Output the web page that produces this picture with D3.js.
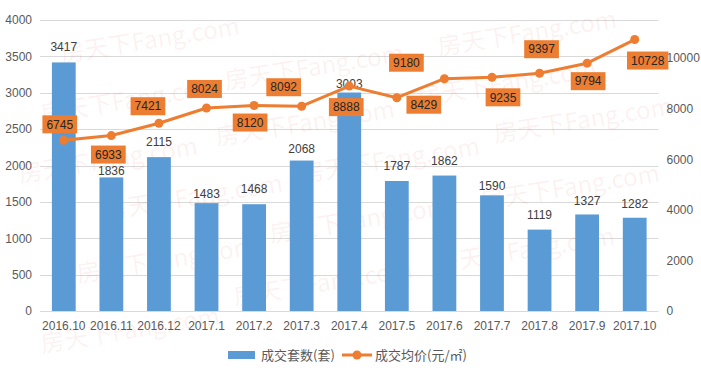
<!DOCTYPE html>
<html>
<head>
<meta charset="utf-8">
<script src="https://cdnjs.cloudflare.com/ajax/libs/d3/7.8.5/d3.min.js"></script>
<style>
  body { margin: 0; background: #fff; }
  svg { display: block; }
  .tick text { fill: #595959; font-family: 'Liberation Sans', sans-serif; font-size: 12px; }
</style>
</head>
<body>
<div id="chart"></div>
<script>
/* global d3 */

var months = ['2016.10', '2016.11', '2016.12', '2017.1', '2017.2', '2017.3', '2017.4',
  '2017.5', '2017.6', '2017.7', '2017.8', '2017.9', '2017.10']
var deals = [3417, 1836, 2115, 1483, 1468, 2068, 3003, 1787, 1862, 1590, 1119, 1327, 1282]
var prices = [6745, 6933, 7421, 8024, 8120, 8092, 8888, 8429, 9180, 9235, 9397, 9794, 10728]
var leftTicks = [0, 500, 1000, 1500, 2000, 2500, 3000, 3500, 4000]
var rightTicks = [0, 2000, 4000, 6000, 8000, 10000]
var seriesNames = ['成交套数(套)', '成交均价(元/㎡)']

// label boxes were dragged around by hand in the original, offset from the point
var priceLabelShift = [[-4, -16], [-3, 19], [-11, -17], [-2, -19], [-4, 17], [-18, -19], [-3, 21],
  [27, 7], [-38, -16], [11, 20], [2, -24], [1, 18], [13, 21]]
var dealLabelGap = [16, 7, 15, 9, 15, 12, 9, 15, 15, 10, 15, 14, 14]

// watermark spots
var marks = [[150, 40], [527, 33], [314, 67], [130, 100], [583, 120], [305, 123], [507, 83],
  [108, 160], [390, 160], [570, 187], [193, 197], [359, 220], [166, 260], [525, 250],
  [323, 283], [130, 330]]

var width = 701
var height = 371
var margin = { top: 20, right: 42.5, bottom: 60, left: 40 }
var blue = '#5B9BD5'
var orange = '#ED7D31'
var labelFont = "'Liberation Sans', sans-serif"

var svg = d3.select('#chart').append('svg')
  .attr('width', width)
  .attr('height', height)

svg.append('rect').attr('width', width).attr('height', height).attr('fill', '#fff')

var x = d3.scaleBand()
  .domain(months)
  .range([margin.left, width - margin.right])
  .paddingInner(0.5)
  .paddingOuter(0.25)

var yL = d3.scaleLinear().domain([0, 4000]).range([height - margin.bottom, margin.top])
var yR = d3.scaleLinear().domain([0, 11500]).range([height - margin.bottom, margin.top])

// grid
svg.append('g')
  .selectAll('line')
  .data(leftTicks)
  .enter().append('line')
  .attr('x1', margin.left)
  .attr('x2', width - margin.right)
  .attr('y1', function (d) { return Math.round(yL(d)) + 0.5 })
  .attr('y2', function (d) { return Math.round(yL(d)) + 0.5 })
  .style('stroke', '#d9d9d9')
  .style('stroke-width', 1)

// left axis
svg.append('g')
  .attr('transform', 'translate(' + (margin.left - 8) + ',0)')
  .call(d3.axisLeft(yL).tickValues(leftTicks).tickFormat(d3.format('d')).tickSize(0).tickPadding(0))
  .call(function (g) { g.select('.domain').remove() })

// right axis
svg.append('g')
  .attr('transform', 'translate(' + (width - margin.right + 8) + ',0)')
  .call(d3.axisRight(yR).tickValues(rightTicks).tickFormat(d3.format('d')).tickSize(0).tickPadding(0))
  .call(function (g) { g.select('.domain').remove() })

// bottom axis
svg.append('g')
  .attr('transform', 'translate(0,' + (height - margin.bottom + 10) + ')')
  .call(d3.axisBottom(x).tickSize(0).tickPadding(0))
  .call(function (g) { g.select('.domain').remove() })
  .selectAll('text').attr('dy', '0.71em')

// watermark
svg.append('g')
  .selectAll('text')
  .data(marks)
  .enter().append('text')
  .attr('transform', function (d) { return 'translate(' + d[0] + ',' + d[1] + ') rotate(-9)' })
  .attr('text-anchor', 'middle')
  .attr('dy', '0.35em')
  .style('font-family', "'Noto Sans CJK SC', sans-serif")
  .style('font-size', '24px')
  .style('fill', '#e06060')
  .style('fill-opacity', 0.09)
  .text('房天下Fang.com')

// bars
svg.append('g')
  .selectAll('rect')
  .data(deals)
  .enter().append('rect')
  .attr('x', function (d, i) { return x(months[i]) })
  .attr('y', function (d) { return yL(d) })
  .attr('width', x.bandwidth())
  .attr('height', function (d) { return yL(0) - yL(d) })
  .style('fill', blue)

svg.append('g')
  .selectAll('text')
  .data(deals)
  .enter().append('text')
  .attr('x', function (d, i) { return x(months[i]) + x.bandwidth() / 2 })
  .attr('y', function (d, i) { return yL(d) - dealLabelGap[i] })
  .attr('dy', '0.35em')
  .attr('text-anchor', 'middle')
  .style('font-family', labelFont)
  .style('font-size', '12px')
  .style('fill', '#404040')
  .text(function (d) { return d })

// price line
var line = d3.line()
  .x(function (d, i) { return x(months[i]) + x.bandwidth() / 2 })
  .y(function (d) { return yR(d) })

svg.append('path')
  .datum(prices)
  .attr('d', line)
  .style('fill', 'none')
  .style('stroke', orange)
  .style('stroke-width', 3)
  .style('stroke-linejoin', 'round')

svg.append('g')
  .selectAll('circle')
  .data(prices)
  .enter().append('circle')
  .attr('cx', function (d, i) { return x(months[i]) + x.bandwidth() / 2 })
  .attr('cy', function (d) { return yR(d) })
  .attr('r', 4.5)
  .style('fill', orange)

// price labels in orange boxes
var priceLabels = svg.append('g')
  .selectAll('g')
  .data(prices)
  .enter().append('g')
  .attr('transform', function (d, i) {
    var cx = x(months[i]) + x.bandwidth() / 2 + priceLabelShift[i][0]
    var cy = yR(d) + priceLabelShift[i][1]
    return 'translate(' + cx + ',' + cy + ')'
  })

priceLabels.append('rect')
  .style('fill', orange)

priceLabels.append('text')
  .attr('text-anchor', 'middle')
  .attr('dy', '0.35em')
  .style('font-family', labelFont)
  .style('font-size', '12px')
  .style('fill', '#262626')
  .text(function (d) { return d })

priceLabels.each(function () {
  var g = d3.select(this)
  var w = g.select('text').node().getComputedTextLength() + 8
  g.select('rect')
    .attr('x', -w / 2)
    .attr('y', -9)
    .attr('width', w)
    .attr('height', 18)
})

// legend
var legend = svg.append('g').attr('transform', 'translate(228,355)')

legend.append('rect')
  .attr('x', 0).attr('y', -4)
  .attr('width', 27).attr('height', 8)
  .style('fill', blue)

legend.append('text')
  .attr('x', 33).attr('dy', '0.35em')
  .style('font-family', "'Noto Sans CJK SC', sans-serif")
  .style('font-size', '13px')
  .style('fill', '#595959')
  .text(seriesNames[0])

legend.append('line')
  .attr('x1', 114).attr('x2', 144)
  .style('stroke', orange)
  .style('stroke-width', 3)

legend.append('circle')
  .attr('cx', 129).attr('r', 4.5)
  .style('fill', orange)

legend.append('text')
  .attr('x', 147).attr('dy', '0.35em')
  .style('font-family', "'Noto Sans CJK SC', sans-serif")
  .style('font-size', '13px')
  .style('fill', '#595959')
  .text(seriesNames[1])
</script>
</body>
</html>
